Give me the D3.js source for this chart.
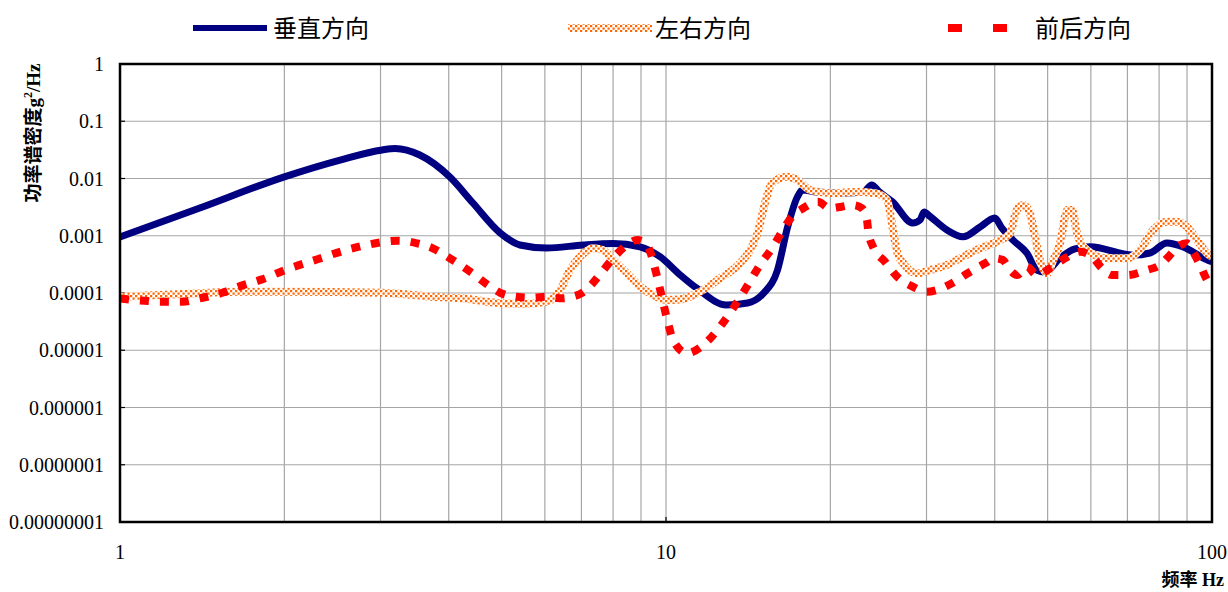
<!DOCTYPE html>
<html>
<head>
<meta charset="utf-8">
<script src="https://cdn.jsdelivr.net/npm/d3@7"></script>
<style>
  body { margin: 0; background: #fff; }
  svg { display: block; }
</style>
</head>
<body>
<div id="chart"></div>
<script>
// series names
let seriesNames = ["垂直方向", "左右方向", "前后方向"];

// 垂直方向 (frequency Hz, PSD g^2/Hz)
let verticalFreq = [1, 1.4, 2.0, 2.53, 3.02, 3.19, 3.54, 4.02, 4.43, 4.97, 5.4, 6.05, 7.05, 8.0, 8.96, 9.75, 10.6, 11.4, 12.9, 14.1, 15.1, 16.0, 16.7, 17.4, 17.8, 18.9, 21.1, 23.0, 23.8, 24.6, 26.0, 28.3, 29.2, 29.7, 30.4, 32.7, 35.0, 37.6, 40.0, 41.2, 43.2, 45.8, 47.8, 49.4, 52.7, 56.1, 59.8, 71.6, 77.0, 82.7, 88.5, 97.9, 100];
let verticalPsd = [0.00095, 0.00305, 0.0107, 0.021, 0.0315, 0.0334, 0.0257, 0.0106, 0.00373, 0.00112, 0.00069, 0.00061, 0.00069, 0.00073, 0.00064, 0.00043, 0.00021, 0.00012, 0.000062, 0.000067, 0.0001, 0.00025, 0.00142, 0.00475, 0.0063, 0.0058, 0.0056, 0.0058, 0.0077, 0.0058, 0.0039, 0.00167, 0.0019, 0.0026, 0.0022, 0.00126, 0.00096, 0.00142, 0.00204, 0.00137, 0.00084, 0.0005, 0.00025, 0.00023, 0.00041, 0.00059, 0.00064, 0.00046, 0.0005, 0.00075, 0.00064, 0.00038, 0.00035];

// 左右方向
let lateralFreq = [1, 1.3, 1.67, 2.03, 3.02, 3.73, 4.2, 5.03, 5.47, 6.05, 6.4, 6.67, 6.96, 7.35, 7.66, 8.0, 8.48, 8.96, 9.47, 10.04, 10.6, 11.54, 12.56, 13.66, 14.37, 14.74, 15.18, 15.63, 16.66, 17.38, 18.35, 20.23, 22.33, 24.28, 25.4, 26.05, 26.5, 27.2, 28.8, 30.45, 32.7, 35.0, 37.6, 40.4, 42.66, 43.9, 45.1, 46.4, 47.4, 48.4, 49.9, 51.2, 52.7, 54.3, 55.4, 56.6, 59.0, 64.2, 69.9, 73.8, 78.0, 82.7, 86.3, 89.9, 93.9, 97.9, 100];
let lateralPsd = [0.000086, 0.000096, 0.000105, 0.000105, 0.000101, 0.000086, 0.0000807, 0.000066, 0.0000643, 0.0000705, 0.000113, 0.000252, 0.00043, 0.000604, 0.000564, 0.000377, 0.000221, 0.000129, 0.0000923, 0.0000755, 0.000077, 0.000105, 0.000181, 0.00033, 0.000644, 0.00118, 0.00369, 0.00824, 0.0107, 0.00942, 0.0063, 0.0055, 0.00588, 0.0055, 0.0042, 0.00126, 0.00052, 0.00033, 0.000221, 0.000252, 0.000308, 0.00043, 0.000604, 0.000787, 0.0011, 0.00282, 0.00344, 0.00247, 0.00096, 0.000377, 0.000221, 0.000377, 0.000738, 0.00282, 0.00282, 0.0011, 0.000564, 0.000404, 0.000404, 0.000564, 0.00126, 0.00176, 0.00176, 0.00144, 0.000843, 0.000493, 0.000426];

// 前后方向
let longitudinalFreq = [1, 1.11, 1.19, 1.3, 1.4, 1.54, 1.66, 1.82, 2.02, 2.3, 2.56, 2.81, 3.03, 3.23, 3.5, 3.74, 4.02, 4.38, 4.72, 4.97, 5.33, 5.68, 6.05, 6.45, 6.73, 7.05, 7.32, 7.64, 8.13, 8.48, 8.85, 9.08, 9.27, 9.63, 9.87, 10.09, 10.3, 10.93, 11.2, 11.89, 12.56, 13.21, 14.06, 14.86, 15.63, 16.31, 17.01, 17.83, 18.97, 19.95, 20.99, 22.0, 22.85, 23.34, 23.47, 23.94, 25.18, 26.5, 28.3, 30.06, 31.35, 33.4, 35.7, 38.4, 40.05, 41.4, 42.66, 43.95, 45.8, 47.8, 50.5, 53.8, 57.3, 60.3, 62.9, 65.6, 69.9, 76.0, 80.3, 83.8, 86.6, 89.9, 92.3, 95.1, 97.9, 100];
let longitudinalPsd = [0.00008, 0.000073, 0.0000705, 0.0000705, 0.0000807, 0.000101, 0.000132, 0.000173, 0.000259, 0.000388, 0.000542, 0.00068, 0.000778, 0.00082, 0.000738, 0.000604, 0.000404, 0.000236, 0.000138, 0.000101, 0.000086, 0.0000828, 0.000086, 0.0000807, 0.000086, 0.000103, 0.000144, 0.000236, 0.00048, 0.00069, 0.000843, 0.000787, 0.000644, 0.000193, 0.0000705, 0.0000296, 0.0000151, 0.00000885, 0.0000094, 0.0000141, 0.0000258, 0.0000505, 0.000129, 0.000308, 0.000604, 0.00118, 0.00215, 0.00302, 0.00393, 0.00302, 0.00322, 0.00344, 0.00302, 0.00188, 0.00118, 0.000644, 0.000352, 0.000193, 0.000129, 0.000105, 0.000113, 0.000148, 0.000221, 0.00033, 0.000404, 0.000377, 0.000252, 0.000206, 0.000288, 0.000206, 0.00027, 0.000404, 0.000526, 0.00043, 0.00027, 0.000206, 0.000206, 0.000252, 0.000308, 0.000461, 0.000644, 0.000738, 0.000526, 0.000308, 0.000169, 0.000127];

// axis ticks
let yTickValues = [1, 0.1, 0.01, 0.001, 0.0001, 0.00001, 0.000001, 0.0000001, 0.00000001];
let yTickLabels = ["1", "0.1", "0.01", "0.001", "0.0001", "0.00001", "0.000001", "0.0000001", "0.00000001"];
let xTickValues = [1, 10, 100];
let xTickLabels = ["1", "10", "100"];

let W = 1228, H = 592;
let margin = {top: 64, right: 16, bottom: 70, left: 120};

let svg = d3.select("#chart").append("svg")
    .attr("width", W)
    .attr("height", H);

let defs = svg.append("defs");
// sparse orange dot pattern used for the 左右方向 band
let pat = defs.append("pattern")
    .attr("id", "checker")
    .attr("patternUnits", "userSpaceOnUse")
    .attr("width", 5)
    .attr("height", 5);
pat.append("rect").attr("width", 5).attr("height", 5).attr("fill", "#ffffff");
pat.append("rect").attr("x", 0).attr("y", 0).attr("width", 2.2).attr("height", 2.2).attr("fill", "#ff6600");
pat.append("rect").attr("x", 2.5).attr("y", 2.5).attr("width", 2.2).attr("height", 2.2).attr("fill", "#ff6600");

defs.append("clipPath").attr("id", "plotclip")
    .append("rect")
    .attr("x", margin.left).attr("y", margin.top)
    .attr("width", W - margin.left - margin.right)
    .attr("height", H - margin.top - margin.bottom);

let x = d3.scaleLog().domain([1, 100]).range([margin.left, W - margin.right]);
let y = d3.scaleLog().domain([1e-8, 1]).range([H - margin.bottom, margin.top]);

// grid
let xGrid = [];
[1, 10].forEach(d => { for (let k = 2; k <= 10; k++) xGrid.push(d * k); });
xGrid = xGrid.filter(v => v < 100);
let yGrid = yTickValues.filter(v => v < 1 && v > 1e-8);

let grid = svg.append("g");
grid.selectAll("line.vx")
    .data(xGrid)
    .join("line")
    .attr("x1", d => x(d)).attr("x2", d => x(d))
    .attr("y1", y(1)).attr("y2", y(1e-8))
    .attr("stroke", "#a6a6a6")
    .attr("stroke-width", 1.2);
grid.selectAll("line.hy")
    .data(yGrid)
    .join("line")
    .attr("x1", x(1)).attr("x2", x(100))
    .attr("y1", d => y(d)).attr("y2", d => y(d))
    .attr("stroke", "#a6a6a6")
    .attr("stroke-width", 1.2);

// inner ticks on left and bottom
grid.selectAll("line.ty")
    .data(yGrid)
    .join("line")
    .attr("x1", x(1)).attr("x2", x(1) + 5)
    .attr("y1", d => y(d)).attr("y2", d => y(d))
    .attr("stroke", "#000").attr("stroke-width", 1.2);
grid.append("line")
    .attr("x1", x(10)).attr("x2", x(10))
    .attr("y1", y(1e-8)).attr("y2", y(1e-8) - 5)
    .attr("stroke", "#000").attr("stroke-width", 1.2);

let line = d3.line()
    .x(d => x(d[0]))
    .y(d => y(d[1]))
    .curve(d3.curveMonotoneX);

let plot = svg.append("g").attr("clip-path", "url(#plotclip)");

let verticalData = d3.zip(verticalFreq, verticalPsd);
let lateralData = d3.zip(lateralFreq, lateralPsd);
let longitudinalData = d3.zip(longitudinalFreq, longitudinalPsd);

plot.append("path")
    .datum(verticalData)
    .attr("d", line)
    .attr("fill", "none")
    .attr("stroke", "#000080")
    .attr("stroke-width", 7)
    .attr("stroke-linejoin", "round");

plot.append("path")
    .datum(lateralData)
    .attr("d", line)
    .attr("fill", "none")
    .attr("stroke", "url(#checker)")
    .attr("stroke-width", 8)
    .attr("stroke-linejoin", "round");

plot.append("path")
    .datum(longitudinalData)
    .attr("d", line)
    .attr("fill", "none")
    .attr("stroke", "#ff0000")
    .attr("stroke-width", 8)
    .attr("stroke-dasharray", "9,11");

// frame
svg.append("rect")
    .attr("x", x(1)).attr("y", y(1))
    .attr("width", x(100) - x(1))
    .attr("height", y(1e-8) - y(1))
    .attr("fill", "none")
    .attr("stroke", "#000")
    .attr("stroke-width", 2.5);

// y tick labels
svg.append("g").selectAll("text")
    .data(yTickValues)
    .join("text")
    .attr("x", x(1) - 16)
    .attr("y", d => y(d))
    .attr("dy", "0.35em")
    .attr("text-anchor", "end")
    .attr("font-family", "'Liberation Serif', serif")
    .attr("font-size", 20)
    .text((d, i) => yTickLabels[i]);

// x tick labels
svg.append("g").selectAll("text")
    .data(xTickValues)
    .join("text")
    .attr("x", d => x(d))
    .attr("y", 559)
    .attr("text-anchor", "middle")
    .attr("font-family", "'Liberation Serif', serif")
    .attr("font-size", 20)
    .text((d, i) => xTickLabels[i]);

// axis titles
svg.append("text")
    .attr("x", 1224)
    .attr("y", 586)
    .attr("text-anchor", "end")
    .attr("font-weight", "bold")
    .attr("font-size", 18)
    .attr("font-family", "'Liberation Serif', 'Noto Sans CJK SC', serif")
    .text("频率 Hz");

let yTitle = svg.append("text")
    .attr("transform", "translate(40,133) rotate(-90)")
    .attr("text-anchor", "middle")
    .attr("font-weight", "bold")
    .attr("font-size", 19)
    .attr("font-family", "'Liberation Serif', 'Noto Sans CJK SC', serif");
yTitle.append("tspan").text("功率谱密度g");
yTitle.append("tspan").attr("font-size", 12).attr("dy", -8).text("2");
yTitle.append("tspan").attr("dy", 8).text("/Hz");

// legend
let legend = svg.append("g");
let legendItems = [
    {name: seriesNames[0], x0: 193, x1: 267, tx: 273},
    {name: seriesNames[1], x0: 568, x1: 652, tx: 655},
    {name: seriesNames[2], x0: 948, x1: 1010, tx: 1035}
];
let ly = 28;
legend.append("line")
    .attr("x1", legendItems[0].x0).attr("x2", legendItems[0].x1)
    .attr("y1", ly).attr("y2", ly)
    .attr("stroke", "#000080").attr("stroke-width", 6);
legend.append("rect")
    .attr("x", legendItems[1].x0).attr("y", ly - 4)
    .attr("width", legendItems[1].x1 - legendItems[1].x0).attr("height", 8)
    .attr("fill", "url(#checker)");
legend.append("line")
    .attr("x1", legendItems[2].x0).attr("x2", legendItems[2].x1)
    .attr("y1", ly).attr("y2", ly)
    .attr("stroke", "#ff0000").attr("stroke-width", 8)
    .attr("stroke-dasharray", "14,31");
legend.selectAll("text")
    .data(legendItems)
    .join("text")
    .attr("x", d => d.tx)
    .attr("y", ly)
    .attr("dy", "0.38em")
    .attr("font-family", "'Noto Sans CJK SC', sans-serif")
    .attr("font-size", 24)
    .text(d => d.name);
</script>
</body>
</html>
